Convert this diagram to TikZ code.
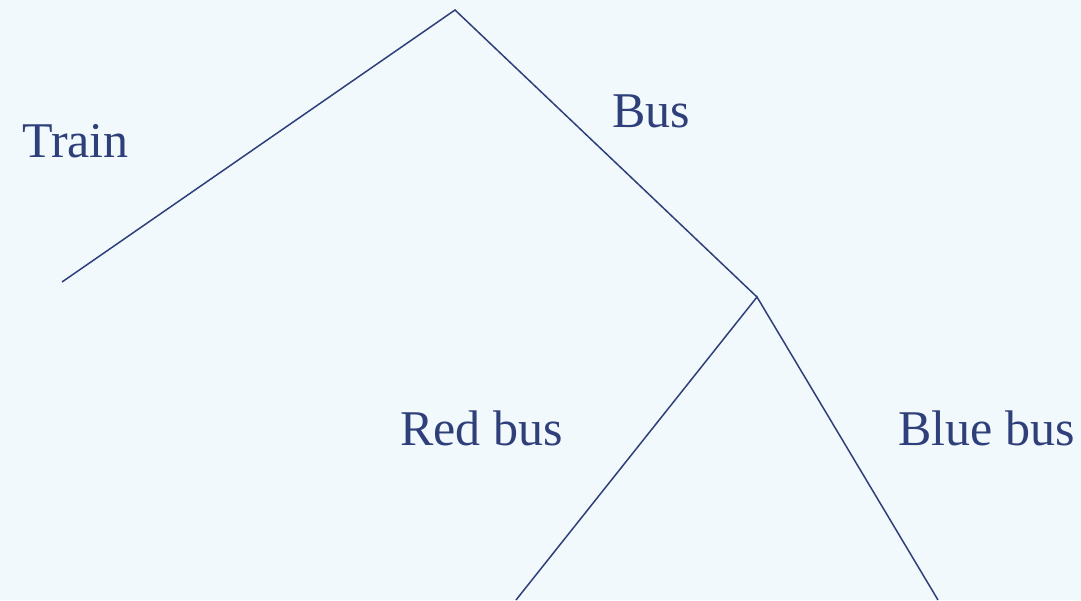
\documentclass[tikz,border=0pt]{standalone}
\usepackage{fontspec}
\setmainfont{Liberation Serif}
\definecolor{ink}{HTML}{2F3F7A}
\definecolor{bg}{HTML}{F2F9FC}
\begin{document}
\begin{tikzpicture}[x=1pt,y=-1pt,
  edge/.style={draw=ink,line width=1.5pt},
  lbl/.style={text=ink,font=\fontsize{50}{52}\selectfont,anchor=base west,inner sep=0pt}]
\fill[bg] (0,0) rectangle (1081,600);
\useasboundingbox (0,0) rectangle (1081,600);
\coordinate (root) at (455,10);
\coordinate (train) at (62,282);
\coordinate (bus) at (757,297);
\coordinate (red) at (516,600);
\coordinate (blue) at (938,600);
\draw[edge] (train) -- (root) -- (bus);
\draw[edge] (red) -- (bus) -- (blue);
\node[lbl] (ltrain) at (22,157) {Train};
\node[lbl] (lbus) at (612,127) {Bus};
\node[lbl] (lred) at (400,445) {Red bus};
\node[lbl] (lblue) at (898,445) {Blue bus};
\end{tikzpicture}
\end{document}
